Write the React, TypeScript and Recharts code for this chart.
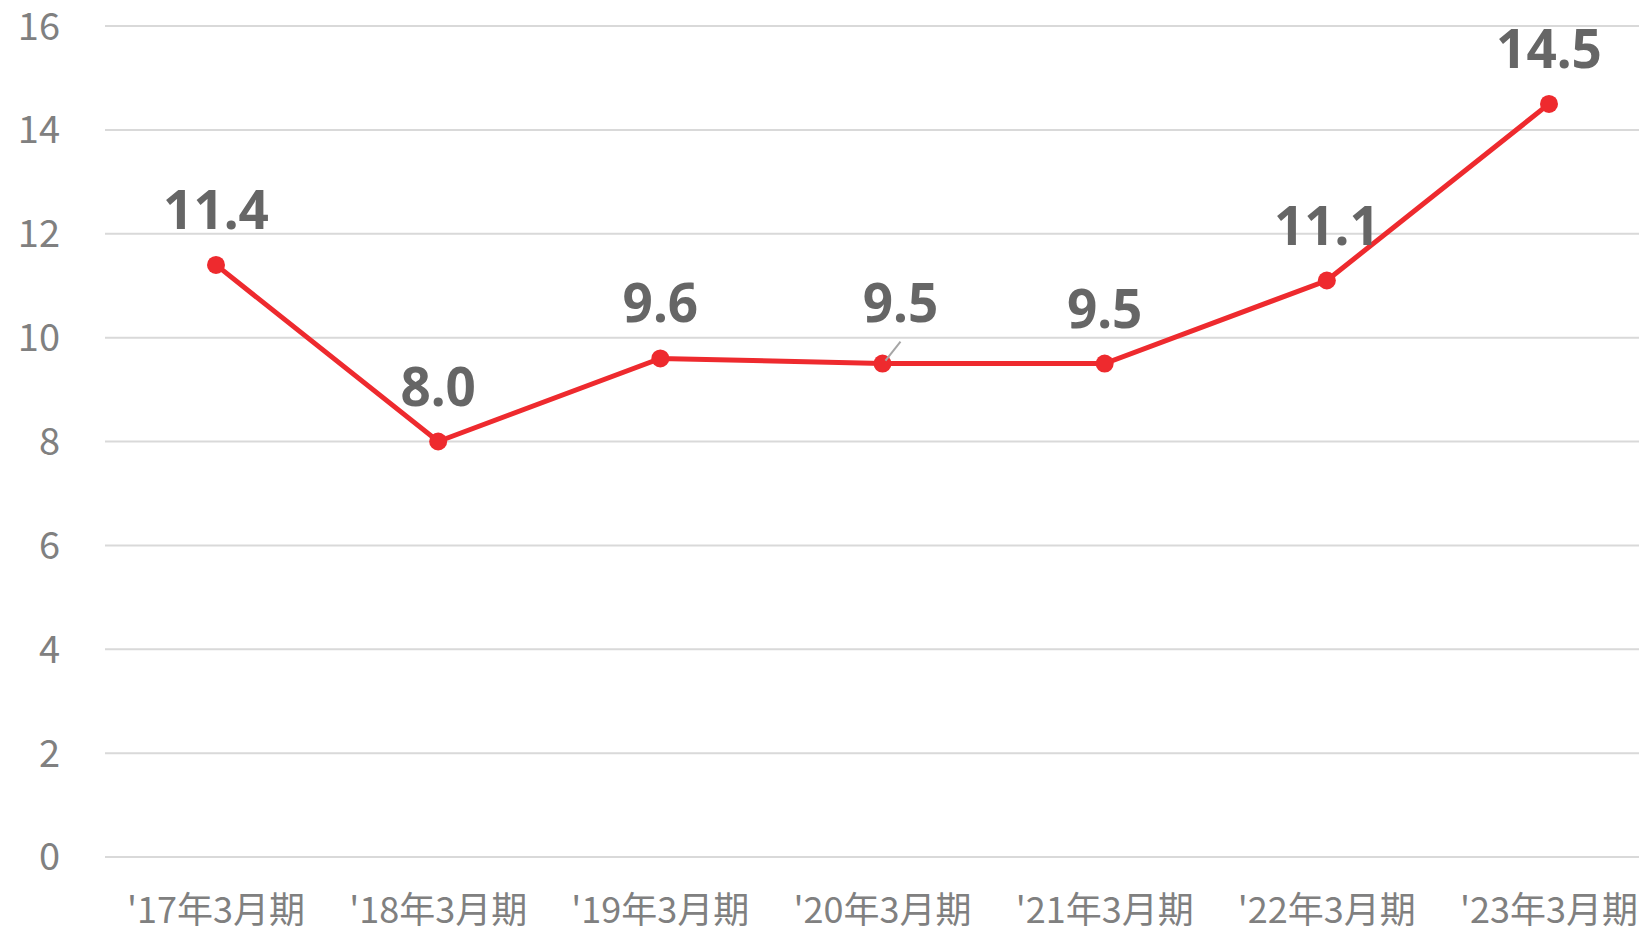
import React from "react";
import { LineChart, Line, XAxis, YAxis, CartesianGrid } from "recharts";

const categories: string[] = ["'17年3月期", "'18年3月期", "'19年3月期", "'20年3月期", "'21年3月期", "'22年3月期", "'23年3月期"];
const values: number[] = [11.4, 8.0, 9.6, 9.5, 9.5, 11.1, 14.5];
const yTicks: number[] = [0, 2, 4, 6, 8, 10, 12, 14, 16];

const data = categories.map((c, i) => ({ name: c, value: values[i] }));

const LINE_COLOR = "#ee2a2e";
const LABEL_COLOR = "#666666";
const TICK_COLOR = "#808080";
const FONT = "'Noto Sans CJK JP', 'Noto Sans', sans-serif";

const renderLabel = (props: any) => {
  const { x, y, value, index } = props;
  const shifted = index === 3;
  const lx = shifted ? x + 18 : x;
  const ly = shifted ? y - 61 : y - 55;
  return (
    <g key={`lbl-${index}`}>
      {shifted && (
        <line x1={x + 3} y1={y - 3} x2={x + 18} y2={y - 22} stroke="#a6a6a6" strokeWidth={2} />
      )}
      <text
        x={lx}
        y={ly}
        dy="0.36em"
        textAnchor="middle"
        fill={LABEL_COLOR}
        fontFamily="'Noto Sans', sans-serif"
        fontWeight={700}
        fontSize={53}
      >
        {Number(value).toFixed(1)}
      </text>
    </g>
  );
};

export default function App() {
  return (
    <div style={{ position: "absolute", left: 0, top: 0, width: 1639, height: 929, overflow: "hidden", background: "#fff" }}>
      <LineChart width={1660} height={929} data={data} margin={{ top: 26, right: 0, bottom: 0, left: 0 }}>
        <CartesianGrid vertical={false} stroke="#d9d9d9" strokeWidth={2} />
        <XAxis
          dataKey="name"
          axisLine={false}
          tickLine={false}
          tickSize={0}
          tickMargin={40}
          height={72}
          interval={0}
          padding={{ left: 111, right: 111 }}
          tick={{ fill: TICK_COLOR, fontSize: 36, fontFamily: FONT }}
        />
        <YAxis
          domain={[0, 16]}
          ticks={yTicks}
          axisLine={false}
          tickLine={false}
          tickSize={0}
          tickMargin={45}
          width={105}
          tick={{ fill: TICK_COLOR, fontSize: 38, fontFamily: FONT }}
        />
        <Line
          type="linear"
          dataKey="value"
          stroke={LINE_COLOR}
          strokeWidth={5}
          dot={{ r: 9, fill: LINE_COLOR, stroke: LINE_COLOR, strokeWidth: 0 }}
          activeDot={false}
          isAnimationActive={false}
          label={renderLabel}
        />
      </LineChart>
    </div>
  );
}
